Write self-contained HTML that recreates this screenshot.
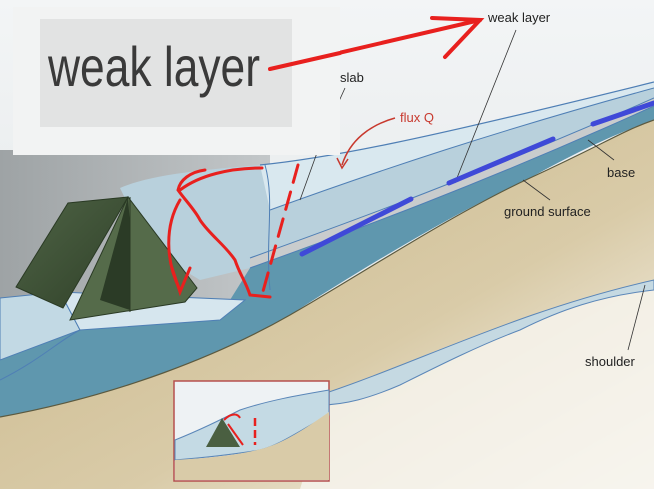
<!DOCTYPE html>
<html><head><meta charset="utf-8"><style>
html,body{margin:0;padding:0;width:654px;height:489px;overflow:hidden;background:#fff}
svg{display:block}
text{font-family:"Liberation Sans",sans-serif}
</style></head><body>
<svg width="654" height="489" viewBox="0 0 654 489" xmlns="http://www.w3.org/2000/svg">
<defs>
<linearGradient id="sky" x1="0" y1="0" x2="0" y2="1"><stop offset="0" stop-color="#f3f5f6"/><stop offset="1" stop-color="#dde2e4"/></linearGradient>
<linearGradient id="grey" x1="0" y1="0" x2="1" y2="0"><stop offset="0" stop-color="#9ea3a5"/><stop offset="1" stop-color="#c3c7c9"/></linearGradient>
<linearGradient id="tan" x1="0" y1="0" x2="1" y2="1"><stop offset="0" stop-color="#c9b587"/><stop offset="0.6" stop-color="#d9cba8"/><stop offset="1" stop-color="#fbf9f4"/></linearGradient>
<linearGradient id="tent" x1="0" y1="0" x2="1" y2="1"><stop offset="0" stop-color="#4f6446"/><stop offset="1" stop-color="#2f4028"/></linearGradient>
</defs>
<rect width="654" height="489" fill="url(#sky)"/>
<rect x="0" y="150" width="270" height="160" fill="url(#grey)"/>
<path d="M0,417 C120,395 220,355 290,315 S450,215 530,178 S620,132 654,120 L654,489 L0,489 Z" fill="url(#tan)"/>
<path d="M330,392 C420,360 520,310 654,282 L654,489 L300,489 Z" fill="#f6f3ec" opacity="0.85"/>
<path d="M320,395 C420,362 520,310 654,280 L654,290 C600,296 560,310 520,330 C480,345 440,365 400,385 C370,398 345,405 320,405 Z" fill="#c5d9e2" stroke="#5a86b8" stroke-width="1"/>
<path d="M0,300 L230,300 L250,268 C350,232 480,185 654,106 L654,120 C620,132 580,150 530,178 C450,215 360,270 290,315 C220,355 120,395 0,417 Z" fill="#5f97ae"/>
<path d="M250,258 C350,222 480,175 654,98 L654,106 C480,185 350,232 250,268 Z" fill="#c9cccd"/>
<path d="M120,188 C150,175 200,170 260,165 C330,158 420,140 654,82 L654,98 C480,175 350,222 250,258 L250,268 L200,280 L150,250 Z" fill="#b8d0dc"/>
<path d="M260,165 C330,158 420,140 654,82 L654,88 C500,130 380,170 270,210 Z" fill="#d9e8ef"/>
<path d="M260,165 C330,158 420,140 654,82" fill="none" stroke="#4f7fb5" stroke-width="1.2"/>
<path d="M270,210 C380,170 500,130 654,88" fill="none" stroke="#4f7fb5" stroke-width="1"/>
<path d="M250,258 C350,222 480,175 654,98" fill="none" stroke="#4f7fb5" stroke-width="1"/>
<path d="M250,268 C350,232 480,185 654,106" fill="none" stroke="#4f7fb5" stroke-width="1"/>
<path d="M0,417 C120,395 220,355 290,315 S450,215 530,178 S620,132 654,120" fill="none" stroke="#5b5a40" stroke-width="1.2"/>
<path d="M265,165 C275,200 265,240 270,290" fill="none" stroke="#4f7fb5" stroke-width="1"/>
<path d="M0,298 L60,292 L80,330 L0,360 Z" fill="#c2d9e4" stroke="#4f7fb5" stroke-width="1"/>
<path d="M60,292 L245,300 L220,320 L80,330 Z" fill="#d6e6ee" stroke="#4f7fb5" stroke-width="1"/>
<path d="M0,380 C40,360 60,340 80,330" fill="none" stroke="#4f7fb5" stroke-width="1"/>
<polygon points="16,287 68,203 128,197 63,308" fill="url(#tent)" stroke="#2a3a24"/>
<polygon points="128,197 70,320 185,302 197,288" fill="#556b4a" stroke="#2a3a24"/>
<polygon points="128,197 100,300 130,310 130,225" fill="#2b3b26"/>
<line x1="130" y1="197" x2="130" y2="312" stroke="#2a3a24"/>
<rect x="174" y="381" width="155" height="100" fill="#eef2f4" stroke="#b5504e" stroke-width="1.5"/>
<path d="M175,440 C200,430 220,420 240,410 C270,400 300,395 329,390 L329,415 C300,430 280,445 260,450 C230,455 200,458 175,460 Z" fill="#c4dae4" stroke="#5a86b8" stroke-width="1"/>
<path d="M175,460 C210,458 240,455 265,448 C290,440 310,425 329,412 L329,480 L175,480 Z" fill="#d9cba8"/>
<polygon points="222,418 206,447 240,447" fill="#4a5f41"/>
<path d="M224,420 C232,412 238,414 240,418 M228,424 L243,445" stroke="#e8201e" stroke-width="2" fill="none"/>
<line x1="255" y1="418" x2="255" y2="445" stroke="#e8201e" stroke-width="2.5" stroke-dasharray="8,4"/>
<line x1="516" y1="30" x2="455" y2="183" stroke="#333" stroke-width="0.8"/>
<line x1="345" y1="88" x2="335" y2="110" stroke="#333" stroke-width="0.8"/>
<line x1="318" y1="150" x2="300" y2="200" stroke="#333" stroke-width="0.8"/>
<line x1="588" y1="140" x2="614" y2="160" stroke="#333" stroke-width="0.8"/>
<line x1="523" y1="180" x2="550" y2="200" stroke="#333" stroke-width="0.8"/>
<line x1="645" y1="285" x2="628" y2="350" stroke="#333" stroke-width="0.8"/>
<path d="M395,118 C370,125 350,140 342,165" fill="none" stroke="#c8392e" stroke-width="1.5"/>
<path d="M337,158 L342,168 L348,159" fill="none" stroke="#c8392e" stroke-width="1.5"/>
<g stroke="#3f49d8" stroke-width="5" stroke-linecap="round">
<line x1="302" y1="254" x2="411" y2="199"/>
<line x1="449" y1="183" x2="553" y2="139"/>
<line x1="593" y1="124" x2="654" y2="103"/>
</g>
<g stroke="#e8201e" stroke-width="3" fill="none" stroke-linecap="round">
<path d="M205,170 C190,172 180,180 178,190 C185,200 195,210 200,220 C210,235 225,245 235,260 C240,275 245,280 250,295 L270,297"/>
<path d="M180,190 C200,175 230,168 262,168"/>
<path d="M180,200 C165,225 165,260 180,290"/>
<path d="M172,268 L180,292 L190,268"/>
<line x1="298" y1="165" x2="262" y2="295" stroke-dasharray="18,10"/>
<line x1="270" y1="69" x2="480" y2="20" stroke-width="4"/>
<path d="M432,18 L480,20 L445,57" stroke-width="4"/>
</g>
<rect x="13" y="7" width="327" height="148" fill="#f2f3f3"/>
<rect x="40" y="19" width="252" height="108" fill="#e2e3e3"/>
<text x="48" y="86" font-size="56" fill="#3a3a3a" textLength="212" lengthAdjust="spacingAndGlyphs">weak layer</text>
<line x1="270" y1="69" x2="340" y2="53" stroke="#e8201e" stroke-width="4" stroke-linecap="round"/>
<text x="488" y="22" font-size="13" fill="#222">weak layer</text>
<text x="340" y="82" font-size="13" fill="#222">slab</text>
<text x="400" y="122" font-size="13" fill="#c8392e">flux Q</text>
<text x="607" y="177" font-size="13" fill="#222">base</text>
<text x="504" y="216" font-size="13" fill="#222">ground surface</text>
<text x="585" y="366" font-size="13" fill="#222">shoulder</text>
</svg>
</body></html>
